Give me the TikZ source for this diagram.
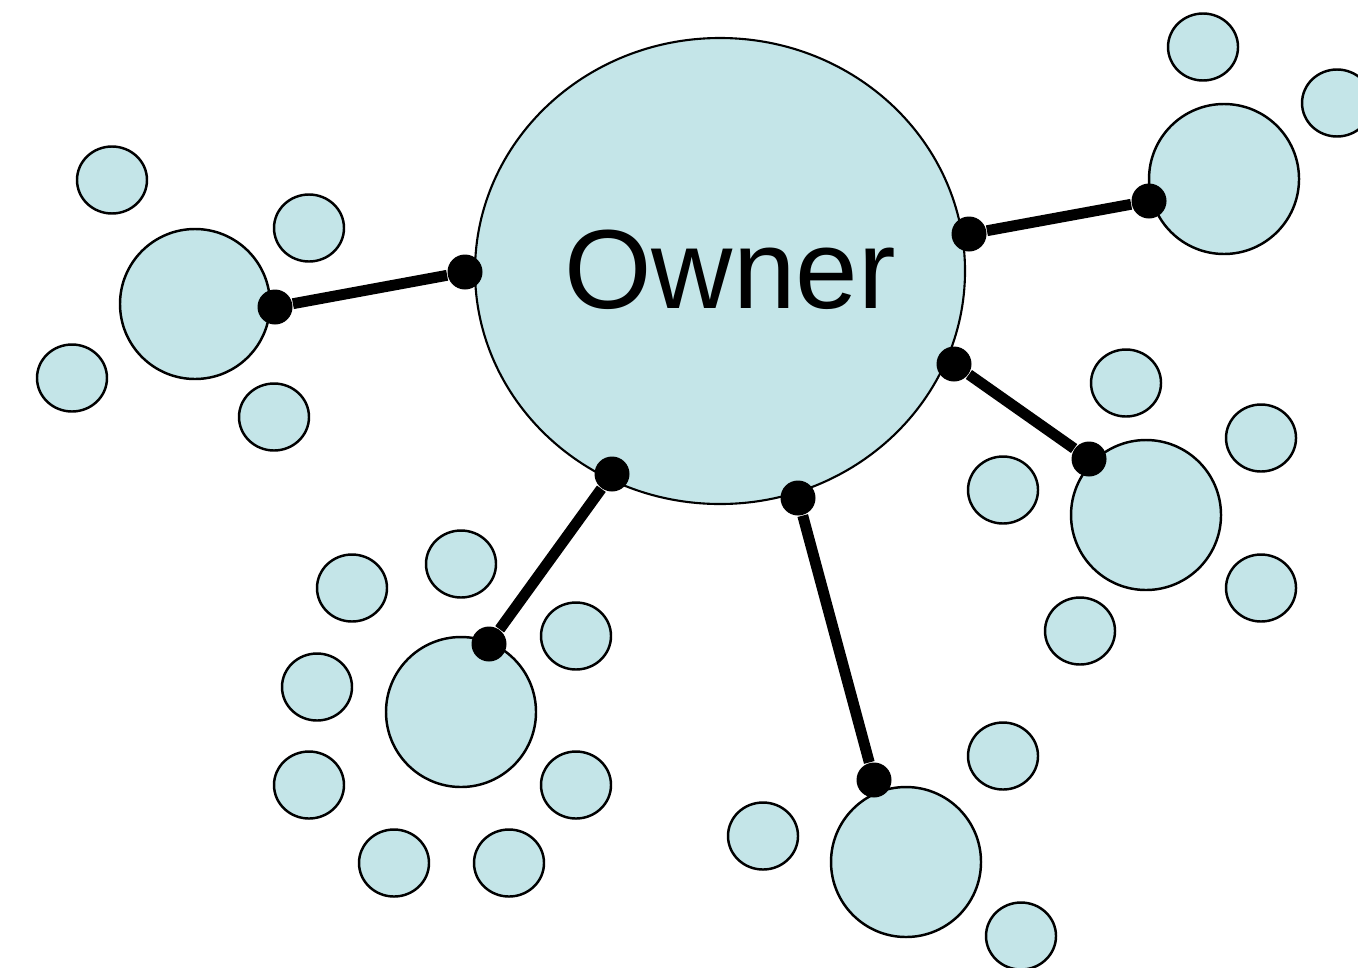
\documentclass[tikz,border=0pt]{standalone}
\usepackage{fontspec}
\setmainfont{Liberation Sans}
\usepackage{tikz}
\usetikzlibrary{shapes.geometric}

\definecolor{bubble}{RGB}{196,229,232}

\begin{document}
\begin{tikzpicture}[
        owner/.style={ellipse, draw, line width=0.6pt, fill=bubble, minimum width=4.90cm, minimum height=4.66cm, inner sep=0pt},
        member/.style={circle, draw, line width=0.7pt, fill=bubble, minimum size=1.50cm, inner sep=0pt},
        item/.style={ellipse, draw, line width=0.7pt, fill=bubble, minimum width=0.70cm, minimum height=0.67cm, inner sep=0pt},
        joint/.style={circle, fill=black, minimum size=0.35cm, inner sep=0pt},
        link/.style={line width=3.1pt}
    ]
            \useasboundingbox (0,0) rectangle (13.58,-9.67);

            % the owner in the middle
            \node[owner] (own) at (7.20,-2.71) {};
            \node[font=\fontsize{32}{38}\selectfont] (ownlabel) at (7.30,-2.70) {Owner};

            % the five members
            \node[member] (m1) at (1.95,-3.04) {};
            \node[member] (m2) at (12.24,-1.79) {};
            \node[member] (m3) at (11.46,-5.15) {};
            \node[member] (m4) at (4.61,-7.12) {};
            \node[member] (m5) at (9.06,-8.62) {};

            % small items round each member
            \foreach \x/\y [count=\i] in {1.12/1.80, 3.09/2.28, 0.72/3.78, 2.74/4.17,
                    12.03/0.47, 13.37/1.03,
                    11.26/3.83, 12.61/4.38, 10.03/4.90, 12.61/5.88, 10.80/6.31,
                    3.52/5.88, 4.61/5.64, 5.76/6.36, 3.17/6.87, 3.09/7.85, 5.76/7.85, 3.94/8.63, 5.09/8.63,
                    7.63/8.36, 10.03/7.56, 10.21/9.36}
                \node[item] (s\i) at (\x,-\y) {};

            % joints on the owner and on the members
            \node[joint] (o1) at (4.65,-2.72) {};
            \node[joint] (o2) at (9.69,-2.34) {};
            \node[joint] (o3) at (9.54,-3.64) {};
            \node[joint] (o4) at (6.12,-4.74) {};
            \node[joint] (o5) at (7.98,-4.98) {};

            \node[joint] (j1) at (2.75,-3.07) {};
            \node[joint] (j2) at (11.49,-2.01) {};
            \node[joint] (j3) at (10.89,-4.59) {};
            \node[joint] (j4) at (4.89,-6.44) {};
            \node[joint] (j5) at (8.74,-7.80) {};

            \draw[link] (o1) -- (j1);
            \draw[link] (o2) -- (j2);
            \draw[link] (o3) -- (j3);
            \draw[link] (o4) -- (j4);
            \draw[link] (o5) -- (j5);

        \end{tikzpicture}
\end{document}
